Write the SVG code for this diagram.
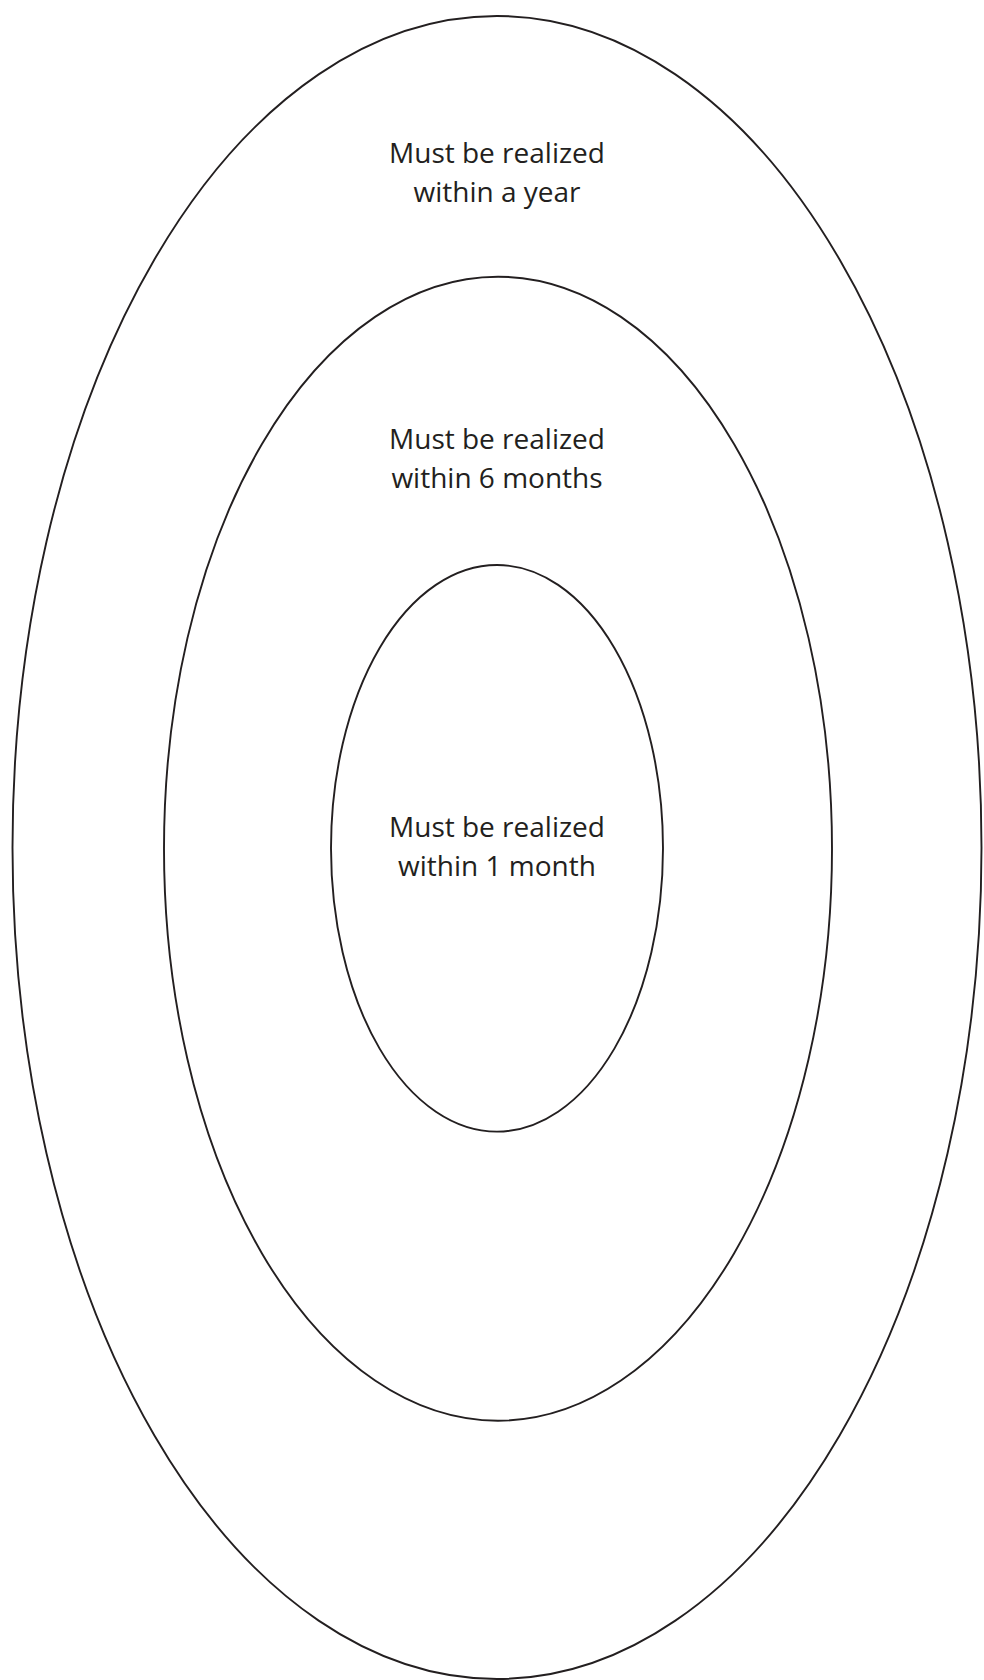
<svg xmlns="http://www.w3.org/2000/svg" width="984" height="1680" viewBox="0 0 984 1680">
<style>
.ring{fill:none;stroke:#231f20;stroke-width:1.9}
.lbl{font-family:"Open Sans","Liberation Sans",sans-serif;font-size:28px;fill:#231f20;text-anchor:middle}
</style>
<rect width="984" height="1680" fill="#fff"/>
<g id="outer">
<ellipse class="ring" cx="497" cy="847.5" rx="484.5" ry="831.5"/>
<text class="lbl" x="497" y="162.7">Must be realized</text>
<text class="lbl" x="497" y="201.7">within a year</text>
</g>
<g id="middle">
<ellipse class="ring" cx="498" cy="848.7" rx="334" ry="572"/>
<text class="lbl" x="497" y="449.3">Must be realized</text>
<text class="lbl" x="497" y="488.3">within 6 months</text>
</g>
<g id="inner">
<ellipse class="ring" cx="497" cy="848.3" rx="166" ry="283.3"/>
<text class="lbl" x="497" y="836.7">Must be realized</text>
<text class="lbl" x="497" y="876">within 1 month</text>
</g>
<g id="connectors"/>
</svg>
